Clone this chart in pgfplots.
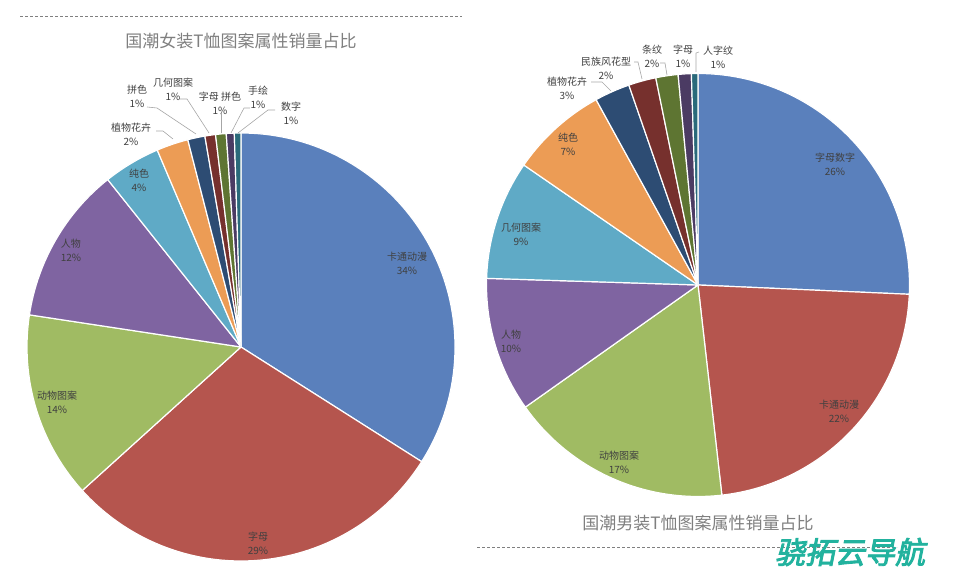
\documentclass[border=0pt]{standalone}
\usepackage{pgfplots}
\pgfplotsset{compat=1.18}
\usepackage{pgfplotstable}
\usepackage{fontspec}
\setmainfont{Noto Sans CJK SC}
\newfontfamily\wmfont[FakeSlant=0.2,FakeBold=3]{Noto Sans CJK SC}

\definecolor{pie0}{HTML}{5A80BC}
\definecolor{pie1}{HTML}{B5554E}
\definecolor{pie2}{HTML}{A0BB63}
\definecolor{pie3}{HTML}{7F64A1}
\definecolor{pie4}{HTML}{5FAAC6}
\definecolor{pie5}{HTML}{EC9C55}
\definecolor{pie6}{HTML}{2D4C73}
\definecolor{pie7}{HTML}{76302D}
\definecolor{pie8}{HTML}{5E7532}
\definecolor{pie9}{HTML}{4B3B63}
\definecolor{pie10}{HTML}{2A6A7A}
\definecolor{labtext}{HTML}{404040}
\definecolor{titletext}{HTML}{7F7F7F}
\definecolor{wmteal}{HTML}{22B29E}

% share in percent, clockwise from 12 o'clock
\pgfplotstableread{
share
34.0
29.3
14.1
11.9
4.3
2.4
1.3
0.8
0.8
0.6
0.5
}\womentab

\pgfplotstableread{
share
25.7
22.5
17.0
10.3
9.1
7.4
2.7
2.1
1.7
1.0
0.5
}\mentab

% #1 table, #2/#3 centre (axis units), #4 radius
\newcommand\drawpie[4]{%
  \pgfplotstablegetrowsof{#1}%
  \pgfmathtruncatemacro\lastrow{\pgfplotsretval-1}%
  \gdef\angA{90}%
  \foreach \i in {0,...,\lastrow}{%
    \pgfplotstablegetelem{\i}{share}\of{#1}%
    \pgfmathsetmacro\angB{\angA-3.6*\pgfplotsretval}%
    \fill[pie\i, draw=white, line width=1.2pt, line join=round]
      (axis cs:#2,#3) -- ++(\angA:#4pt)
      arc[start angle=\angA, end angle=\angB, radius=#4pt] -- cycle;
    \global\let\angA\angB
  }%
}

\begin{document}
\begin{tikzpicture}[
  lab/.style={inner sep=0pt, align=center, text=labtext,
    font=\fontsize{10}{14}\selectfont},
  lead/.style={draw=black!35, line width=0.6pt}]
\begin{axis}[
  x=1pt, y=1pt,
  xmin=0, xmax=953, ymin=0, ymax=572,
  hide axis, clip=false,
]
\pgfplotsextra{
  \path (axis cs:0,0) rectangle (axis cs:953,572);
  \drawpie{\womentab}{241}{225}{214}
  \drawpie{\mentab}{698}{287}{211.5}

  % titles and rules
  \draw[titletext, line width=0.7pt, dash pattern=on 3pt off 2pt] (axis cs:20,556) -- (axis cs:462,556);
  \draw[titletext, line width=0.7pt, dash pattern=on 3pt off 2pt] (axis cs:477,25) -- (axis cs:897,25);
  \node[text=titletext, font=\fontsize{17}{19}\selectfont] at (axis cs:241,531) {国潮女装T恤图案属性销量占比};
  \node[text=titletext, font=\fontsize{17}{19}\selectfont] at (axis cs:698,49) {国潮男装T恤图案属性销量占比};

  % women: labels inside
  \node[lab] at (axis cs:407,309) {卡通动漫\\34\%};
  \node[lab] at (axis cs:258,28.5) {字母\\29\%};
  \node[lab] at (axis cs:57,170) {动物图案\\14\%};
  \node[lab] at (axis cs:71,321.5) {人物\\12\%};
  \node[lab] at (axis cs:139,392) {纯色\\4\%};
  % women: labels outside
  \node[lab] at (axis cs:131,437.5) {植物花卉\\2\%};
  \node[lab] at (axis cs:137,475.5) {拼色\\1\%};
  \node[lab] at (axis cs:173,483) {几何图案\\1\%};
  \node[lab] at (axis cs:220,469) {字母 拼色\\1\%};
  \node[lab] at (axis cs:258,474.5) {手绘\\1\%};
  \node[lab] at (axis cs:291,459) {数字\\1\%};
  \draw[lead] (axis cs:156,441) -- (axis cs:163,441) -- (axis cs:173,433);
  \draw[lead] (axis cs:147,465) -- (axis cs:157,464) -- (axis cs:196,438);
  \draw[lead] (axis cs:180,473) -- (axis cs:187,473) -- (axis cs:209,439);
  \draw[lead] (axis cs:221,459) -- (axis cs:221,439);
  \draw[lead] (axis cs:250,464) -- (axis cs:244,464) -- (axis cs:231,439);
  \draw[lead] (axis cs:275,462) -- (axis cs:268,462) -- (axis cs:238,439);

  % men: labels inside
  \node[lab] at (axis cs:835,408) {字母数字\\26\%};
  \node[lab] at (axis cs:839,160.5) {卡通动漫\\22\%};
  \node[lab] at (axis cs:619,110) {动物图案\\17\%};
  \node[lab] at (axis cs:511,231) {人物\\10\%};
  \node[lab] at (axis cs:521,338) {几何图案\\9\%};
  \node[lab] at (axis cs:568,428) {纯色\\7\%};
  % men: labels outside
  \node[lab] at (axis cs:567,484) {植物花卉\\3\%};
  \node[lab] at (axis cs:606,503.5) {民族风花型\\2\%};
  \node[lab] at (axis cs:652,515.5) {条纹\\2\%};
  \node[lab] at (axis cs:683,515.5) {字母\\1\%};
  \node[lab] at (axis cs:718,514.5) {人字纹\\1\%};
  \draw[lead] (axis cs:591,490) -- (axis cs:602,490) -- (axis cs:611,481);
  \draw[lead] (axis cs:634,510) -- (axis cs:638,510) -- (axis cs:642,493);
  \draw[lead] (axis cs:660,509) -- (axis cs:665,509) -- (axis cs:667,497);
  \draw[lead] (axis cs:699,520) -- (axis cs:696,519) -- (axis cs:696,500);

  % watermark
  \node[text=wmteal, font=\wmfont\fontsize{30}{32}\selectfont, inner sep=0pt] at (axis cs:850,20) {骁拓云导航};
}
\end{axis}
\end{tikzpicture}
\end{document}
